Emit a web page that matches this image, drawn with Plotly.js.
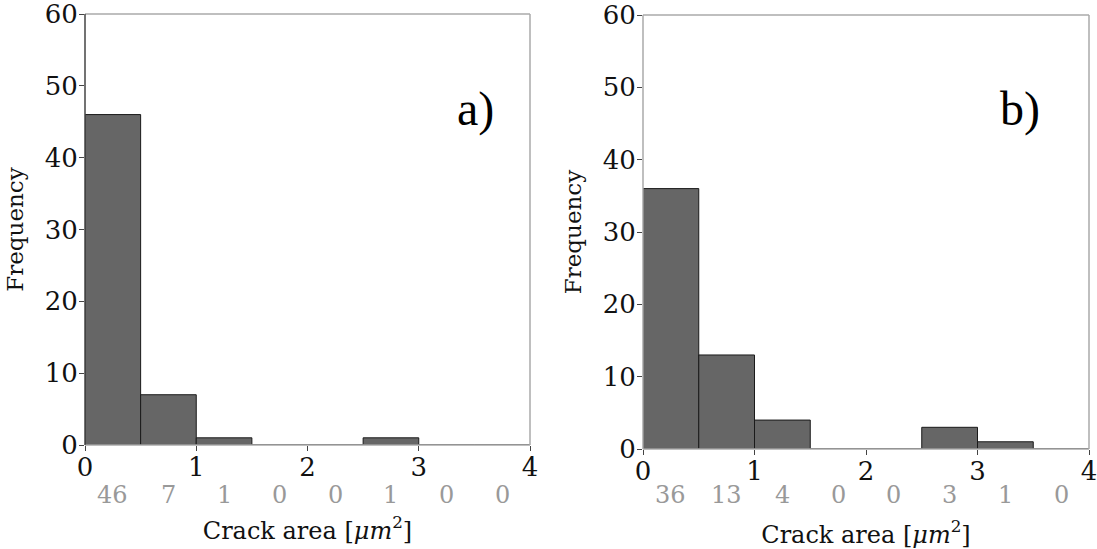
<!DOCTYPE html>
<html>
<head>
<meta charset="utf-8">
<script src="https://cdn.plot.ly/plotly-3.0.1.min.js"></script>
<style>html,body{margin:0;padding:0;background:#fff;}#chart{width:1097px;height:549px;}</style>
</head>
<body>
<div id="chart"></div>
<script>
const binCenters = [0.25, 0.75, 1.25, 1.75, 2.25, 2.75, 3.25, 3.75];
const countsA = [46, 7, 1, 0, 0, 1, 0, 0];
const countsB = [36, 13, 4, 0, 0, 3, 1, 0];
const xTicks = [0, 1, 2, 3, 4];
const yTicks = [0, 10, 20, 30, 40, 50, 60];
const panelLabels = ['a)', 'b)'];
const xTitle = 'Crack area [<i>μm</i><sup>2</sup>]';
const yTitle = 'Frequency';

const serif = 'DejaVu Serif, serif';
const barStyle = {color: '#666666', line: {color: '#1a1a1a', width: 1}};

const traces = [
  {type: 'bar', x: binCenters, y: countsA, width: 0.5, marker: barStyle, xaxis: 'x', yaxis: 'y', hoverinfo: 'x+y'},
  {type: 'bar', x: binCenters, y: countsB, width: 0.5, marker: barStyle, xaxis: 'x2', yaxis: 'y2', hoverinfo: 'x+y'}
];

function xaxis(domain, anchor) {
  return {domain: domain, anchor: anchor, range: [0, 4], tickvals: xTicks, ticktext: xTicks.map(String),
    ticks: 'outside', ticklen: 5, tickcolor: '#444', showgrid: false, zeroline: false,
    showline: false, tickfont: {family: serif, size: 26, color: '#111'},
    ticklabeloverflow: 'allow', ticklabelstandoff: -6,
    title: {text: xTitle, font: {family: serif, size: 24, color: '#111'}, standoff: 40}, automargin: false};
}
function yaxis(domain, anchor) {
  return {domain: domain, anchor: anchor, range: [0, 60], tickvals: yTicks, ticktext: yTicks.map(String),
    ticks: 'outside', ticklen: 5, tickcolor: '#444', showgrid: false, zeroline: false,
    showline: false, tickfont: {family: serif, size: 26, color: '#111'},
    ticklabeloverflow: 'allow', ticklabelstandoff: -4,
    title: {text: yTitle, font: {family: serif, size: 23, color: '#111'}, standoff: 14}, automargin: false};
}

const dA = [85/1097, 530/1097];
const dB = [643/1097, 1089/1097];
const yA = [1 - 445/549, 1 - 14/549];
const yB = [1 - 449/549, 1 - 15/549];

const annotations = [];
binCenters.forEach((c, i) => {
  annotations.push({x: c, xref: 'x', y: 1 - 495/549, yref: 'paper', text: String(countsA[i]), showarrow: false,
    font: {family: serif, size: 24, color: '#999'}, yanchor: 'middle'});
  annotations.push({x: c, xref: 'x2', y: 1 - 495/549, yref: 'paper', text: String(countsB[i]), showarrow: false,
    font: {family: serif, size: 24, color: '#999'}, yanchor: 'middle'});
});
annotations.push({x: 475/1097, xref: 'paper', y: 1 - 80/549, yref: 'paper', text: panelLabels[0], showarrow: false,
  font: {family: 'Liberation Serif, serif', size: 48, color: '#000'}});
annotations.push({x: 1042/1097, xref: 'paper', y: 1 - 80/549, yref: 'paper', text: panelLabels[1], showarrow: false,
  font: {family: 'Liberation Serif, serif', size: 48, color: '#000'}});

function frame(xr, yr, leftColor) {
  const light = '#aaaaaa';
  return [
    {type: 'line', xref: xr + ' domain', yref: yr + ' domain', x0: 0, x1: 1, y0: 1, y1: 1, line: {color: light, width: 1.5}},
    {type: 'line', xref: xr + ' domain', yref: yr + ' domain', x0: 1, x1: 1, y0: 0, y1: 1, line: {color: light, width: 1.5}},
    {type: 'line', xref: xr + ' domain', yref: yr + ' domain', x0: 0, x1: 1, y0: 0, y1: 0, line: {color: light, width: 1.5}},
    {type: 'line', xref: xr + ' domain', yref: yr + ' domain', x0: 0, x1: 0, y0: 0, y1: 1, line: {color: leftColor, width: 1.5}}
  ];
}

const layout = {
  width: 1097, height: 549,
  margin: {l: 0, r: 0, t: 0, b: 0},
  paper_bgcolor: '#fff', plot_bgcolor: '#fff',
  showlegend: false, bargap: 0,
  xaxis: xaxis(dA, 'y'), yaxis: yaxis(yA, 'x'),
  xaxis2: xaxis(dB, 'y2'), yaxis2: yaxis(yB, 'x2'),
  annotations: annotations,
  shapes: frame('x', 'y', '#444444').concat(frame('x2', 'y2', '#aaaaaa'))
};

Plotly.newPlot('chart', traces, layout, {displayModeBar: false, staticPlot: true});
</script>
</body>
</html>
